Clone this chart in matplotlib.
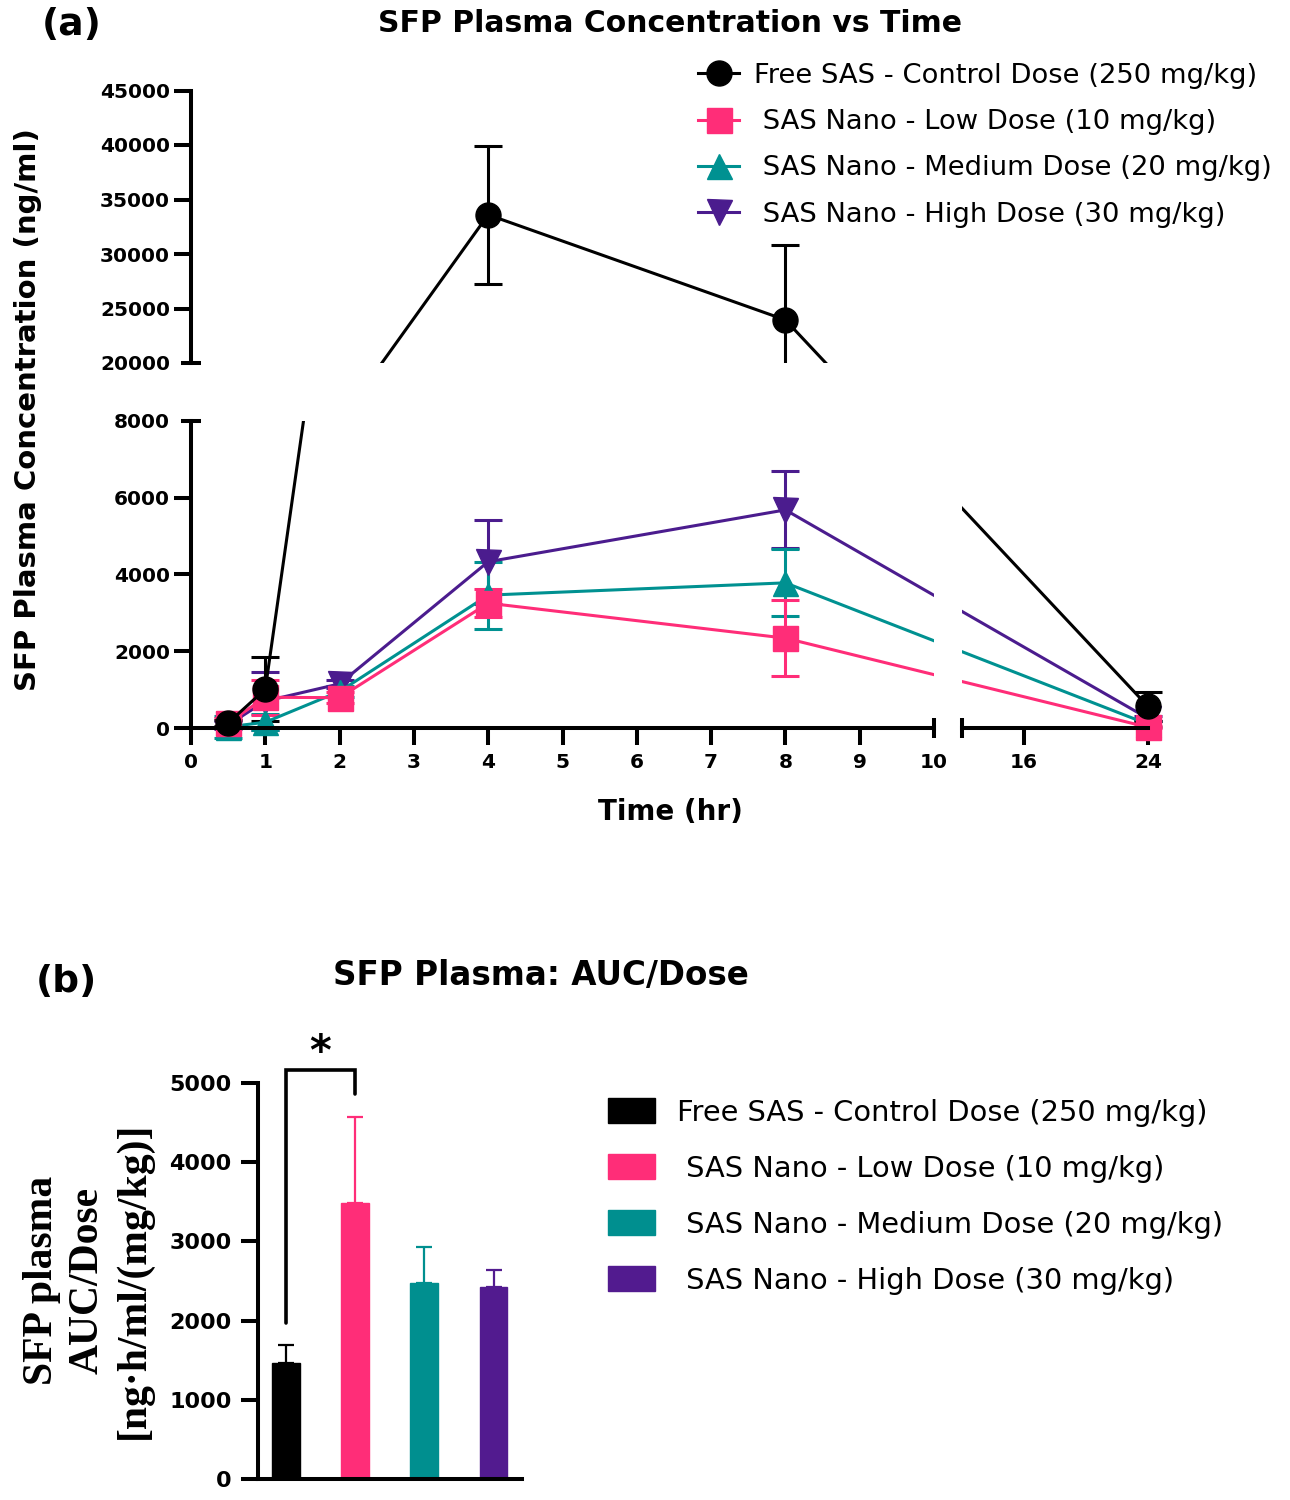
import numpy as np
import matplotlib
matplotlib.use('Agg')
import matplotlib.pyplot as plt
from matplotlib.lines import Line2D
from matplotlib.patches import Patch

W, H = 1290, 1500

# ---------------- data (a): SFP plasma concentration (ng/ml), mean and SD
time_h = [0.5, 1, 2, 4, 8, 24]
free_mean = [130, 1010, 14600, 33600, 23950, 560]
free_sd = [80, 830, 0, 6350, 6900, 380]
low_mean = [130, 800, 790, 3250, 2340, 20]
low_sd = [120, 460, 150, 360, 990, 30]
med_mean = [30, 150, 950, 3460, 3780, 100]
med_sd = [290, 215, 150, 870, 870, 80]
high_mean = [80, 700, 1150, 4330, 5680, 250]
high_sd = [100, 760, 100, 1090, 1000, 60]

series_names = ['Free SAS - Control Dose (250 mg/kg)',
                ' SAS Nano - Low Dose (10 mg/kg)',
                ' SAS Nano - Medium Dose (20 mg/kg)',
                ' SAS Nano - High Dose (30 mg/kg)']
colors = ['#000000', '#FF2D78', '#009191', '#4B1C8E']
bar_colors = ['#000000', '#FF2D78', '#008F8F', '#521B8F']
markers = ['o', 's', '^', 'v']

# ---------------- data (b): AUC/Dose
auc_mean = [1465, 3490, 2480, 2430]
auc_sd = [225, 1080, 455, 210]

plt.rcParams['font.family'] = 'DejaVu Sans'
plt.rcParams['font.weight'] = 'bold'

# ---------------- broken scales (pixel offsets from the origin)
XB = np.array([-100, 0, 10, 12, 24, 200.])
XP = np.array([-7430, 0, 743, 771, 957, 957 + 176 * 15.5])
LOW, UP = 0.0384, 0.0109
YB = np.array([-1e5, 0, 8000, 20000, 45000, 1e6])
YP = np.array([-1e5 * LOW, 0, 8000 * LOW, 365, 365 + 25000 * UP,
               365 + (1e6 - 20000) * UP])


def fx(t):
    return np.interp(t, XB, XP)


def fx_inv(p):
    return np.interp(p, XP, XB)


def gy(v):
    return np.interp(v, YB, YP)


def gy_inv(p):
    return np.interp(p, YP, YB)


def panel_series(vals, v0, g0, slope):
    # points inside the y gap are placed on one panel's straight scale
    vals = np.asarray(vals, float)
    out = vals.copy()
    gap = (vals > 8000) & (vals < 20000)
    out[gap] = gy_inv(g0 + (vals[gap] - v0) * slope)
    return out


X0, Y0 = 191, 728


def rect(t0, t1, v0, v1):
    x0 = X0 + fx(t0)
    x1 = X0 + fx(t1)
    ytop = Y0 - gy(v1)
    ybot = Y0 - gy(v0)
    return [x0 / W, 1 - ybot / H, (x1 - x0) / W, (ybot - ytop) / H]


fig = plt.figure(figsize=(W / 100, H / 100), dpi=100)

ax_lo = fig.add_axes(rect(0, 10, -700, 8000))
ax_rt = fig.add_axes(rect(12, 25, -700, 8000))
ax_up = fig.add_axes(rect(0, 10, 20000, 45000))

SPW = 2.9
for ax in (ax_lo, ax_rt, ax_up):
    ax.set_facecolor('none')
    ax.set_xscale('function', functions=(fx, fx_inv))
    ax.set_yscale('function', functions=(gy, gy_inv))
    for s in ax.spines.values():
        s.set_linewidth(SPW)
    ax.spines['top'].set_visible(False)
    ax.spines['right'].set_visible(False)
    ax.tick_params(which='major', direction='out', length=12, width=SPW,
                   labelsize=14.5, pad=3)
    ax.tick_params(which='minor', direction='inout', length=14.4, width=SPW,
                   labelsize=14.5, pad=7.8)

ax_lo.set_xlim(0, 10)
ax_lo.set_ylim(-700, 8000)
ax_rt.set_xlim(12, 25)
ax_rt.set_ylim(-700, 8000)
ax_up.set_xlim(0, 10)
ax_up.set_ylim(20000, 45000)

ax_lo.spines['left'].set_bounds(0, 8000)
ax_lo.spines['bottom'].set_position(('data', 0))
ax_lo.spines['bottom'].set_bounds(0, 10)
ax_lo.set_xticks(range(10))
ax_lo.set_xticks([10], labels=['10'], minor=True)
ax_lo.set_yticks([0, 2000, 4000, 6000])
ax_lo.set_yticks([8000], labels=['8000'], minor=True)
ax_lo.tick_params(axis='x', which='major', pad=6)
ax_lo.tick_params(axis='x', which='minor', pad=10.8)

ax_rt.spines['left'].set_visible(False)
ax_rt.spines['bottom'].set_position(('data', 0))
ax_rt.spines['bottom'].set_bounds(12, 24)
ax_rt.set_xticks([16, 24])
ax_rt.set_xticks([12], labels=[''], minor=True)
ax_rt.set_yticks([])
ax_rt.tick_params(axis='x', which='major', pad=6)

ax_up.spines['bottom'].set_visible(False)
ax_up.spines['left'].set_bounds(20000, 45000)
ax_up.xaxis.set_visible(False)
ax_up.set_yticks([25000, 30000, 35000, 40000, 45000])
ax_up.set_yticks([20000], labels=['20000'], minor=True)

means = [free_mean, low_mean, med_mean, high_mean]
sds = [free_sd, low_sd, med_sd, high_sd]

for i in [3, 2, 1, 0]:
    for ax in (ax_lo, ax_rt, ax_up):
        t = np.asarray(time_h, float)
        sd = np.asarray(sds[i], float)
        if i == 0:
            if ax is ax_up:
                vals = panel_series(means[0], 20000, 365, UP)
            else:
                vals = panel_series(means[0], 0, 0, LOW)
            if ax is ax_lo:
                # the 8 h -> 24 h segment runs from the top panel to the
                # right panel only
                keep = t <= 4
                t, vals, sd = t[keep], vals[keep], sd[keep]
        elif ax is ax_up:
            continue
        else:
            vals = means[i]
        ax.errorbar(t, vals, yerr=sd, color=colors[i],
                    marker=markers[i], ms=18, mfc=colors[i], mec=colors[i],
                    lw=2.2, elinewidth=2.2, capsize=10, capthick=2.2,
                    solid_capstyle='butt')

handles = [Line2D([], [], color=colors[i], marker=markers[i], ms=18, lw=2.2)
           for i in range(4)]
fig.legend(handles, series_names, loc='upper left',
           bbox_to_anchor=(698 / W, 1 - 63 / H), frameon=False,
           prop=dict(size=19.7, weight='normal'), handlelength=1.5,
           handletextpad=0.55, labelspacing=0.74, borderpad=0,
           borderaxespad=0)

fig.text(72 / W, 1 - 25 / H, '(a)', ha='center', va='center', size=27)
fig.text(670 / W, 1 - 23 / H, 'SFP Plasma Concentration vs Time',
         ha='center', va='center', size=21.5)
fig.text(670 / W, 1 - 812 / H, 'Time (hr)', ha='center', va='center',
         size=20)
fig.text(28 / W, 1 - 410 / H, 'SFP Plasma Concentration (ng/ml)',
         rotation=90, ha='center', va='center', size=21)

# ---------------- panel (b)
ax_b = fig.add_axes([258 / W, 1 - 1479 / H, (522 - 258) / W,
                     (1479 - 1083) / H])
xb = np.arange(len(auc_mean))
ax_b.bar(xb, auc_mean, width=0.4, color=bar_colors, edgecolor=bar_colors,
         linewidth=1, zorder=2)
for i in range(len(auc_mean)):
    ax_b.errorbar(xb[i], auc_mean[i], yerr=[[0], [auc_sd[i]]],
                  color=bar_colors[i], lw=1.6, capsize=6, capthick=1.6,
                  zorder=1)
ax_b.set_xlim(-0.4, 3.41)
ax_b.set_ylim(0, 5000)
ax_b.set_yticks(range(0, 5001, 1000))
ax_b.set_xticks([])
for s in ('top', 'right'):
    ax_b.spines[s].set_visible(False)
for s in ('left', 'bottom'):
    ax_b.spines[s].set_linewidth(SPW)
ax_b.tick_params(axis='y', direction='out', length=12, width=SPW,
                 labelsize=16, pad=7)

ax_b.plot([0, 0, 1, 1], [1970, 5160, 5160, 4860], color='k', lw=2.6,
          clip_on=False, solid_joinstyle='miter', solid_capstyle='round')
ax_b.text(0.5, 5230, '*', ha='center', va='baseline', size=30)

fig.text(88 / W, 1 - 1280 / H, 'SFP plasma\nAUC/Dose\n[ng\u00b7h/ml/(mg/kg)]',
         rotation=90, ha='center', va='center', family='Liberation Serif',
         size=30, linespacing=1.27, multialignment='center')

patches = [Patch(facecolor=c, edgecolor=c) for c in bar_colors]
fig.legend(patches, series_names, loc='upper left',
           bbox_to_anchor=(608 / W, 1 - 1098 / H), frameon=False,
           prop=dict(size=20.8, weight='normal'), handlelength=1.63,
           handleheight=0.97, handletextpad=0.75, labelspacing=0.95,
           borderpad=0, borderaxespad=0)

fig.text(66 / W, 1 - 982 / H, '(b)', ha='center', va='center', size=27)
fig.text(541 / W, 1 - 975 / H, 'SFP Plasma: AUC/Dose', ha='center',
         va='center', size=23.5)

fig.savefig('out.png', dpi=100)
